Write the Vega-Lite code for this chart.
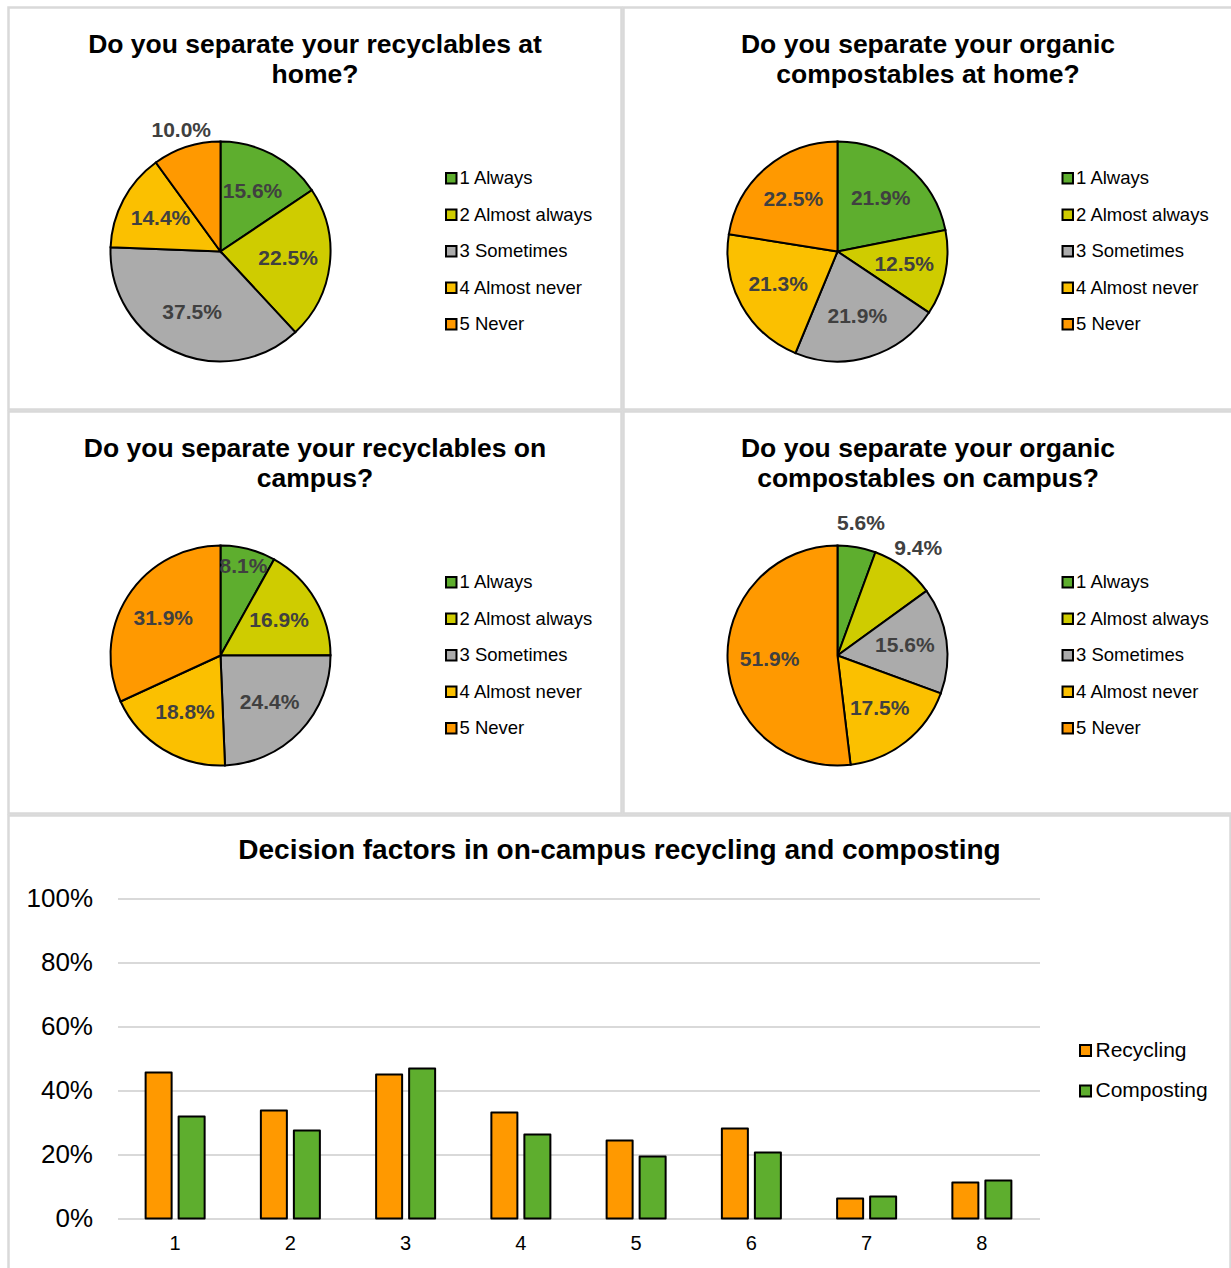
{
  "$schema": "https://vega.github.io/schema/vega-lite/v6.json",
  "padding": {"left": 6.5, "top": 5.5, "right": 0, "bottom": 0},
  "spacing": -8,
  "config": {
    "font": "Liberation Sans",
    "view": {"stroke": "#d9d9d9", "strokeWidth": 2.5},
    "title": {"font": "Liberation Sans", "fontWeight": "bold", "fontSize": 26.5, "color": "#000000", "anchor": "middle", "lineHeight": 30, "baseline": "top"},
    "legend": {"labelFont": "Liberation Sans", "labelColor": "#000000"}
  },
  "resolve": {"scale": {"color": "independent"}, "legend": {"color": "independent"}},
  "datasets": {
    "rh": [
      {"answer": "1 Always", "pct": 0.156},
      {"answer": "2 Almost always", "pct": 0.225},
      {"answer": "3 Sometimes", "pct": 0.375},
      {"answer": "4 Almost never", "pct": 0.144},
      {"answer": "5 Never", "pct": 0.100}
    ],
    "ch": [
      {"answer": "1 Always", "pct": 0.219},
      {"answer": "2 Almost always", "pct": 0.125},
      {"answer": "3 Sometimes", "pct": 0.219},
      {"answer": "4 Almost never", "pct": 0.213},
      {"answer": "5 Never", "pct": 0.225}
    ],
    "rc": [
      {"answer": "1 Always", "pct": 0.081},
      {"answer": "2 Almost always", "pct": 0.169},
      {"answer": "3 Sometimes", "pct": 0.244},
      {"answer": "4 Almost never", "pct": 0.188},
      {"answer": "5 Never", "pct": 0.319}
    ],
    "cc": [
      {"answer": "1 Always", "pct": 0.056},
      {"answer": "2 Almost always", "pct": 0.094},
      {"answer": "3 Sometimes", "pct": 0.156},
      {"answer": "4 Almost never", "pct": 0.175},
      {"answer": "5 Never", "pct": 0.519}
    ],
    "bars": [
      {"factor": "1", "series": "Recycling", "pct": 0.456},
      {"factor": "1", "series": "Composting", "pct": 0.319},
      {"factor": "2", "series": "Recycling", "pct": 0.3375},
      {"factor": "2", "series": "Composting", "pct": 0.275},
      {"factor": "3", "series": "Recycling", "pct": 0.45},
      {"factor": "3", "series": "Composting", "pct": 0.469},
      {"factor": "4", "series": "Recycling", "pct": 0.331},
      {"factor": "4", "series": "Composting", "pct": 0.2625},
      {"factor": "5", "series": "Recycling", "pct": 0.244},
      {"factor": "5", "series": "Composting", "pct": 0.194},
      {"factor": "6", "series": "Recycling", "pct": 0.281},
      {"factor": "6", "series": "Composting", "pct": 0.206},
      {"factor": "7", "series": "Recycling", "pct": 0.0625},
      {"factor": "7", "series": "Composting", "pct": 0.069},
      {"factor": "8", "series": "Recycling", "pct": 0.1125},
      {"factor": "8", "series": "Composting", "pct": 0.119}
    ]
  },
  "vconcat": [
    {
      "spacing": -5,
      "resolve": {"scale": {"color": "independent"}, "legend": {"color": "independent"}},
      "vconcat": [
        {
          "hconcat": [
            {
              "width": 613, "height": 402,
              "view": {"stroke": "#d9d9d9", "strokeWidth": 2.5},
              "title": {"text": ["Do you separate your recyclables at", "home?"], "offset": -80.5},
              "data": {"name": "rh"},
              "encoding": {
                "theta": {"field": "pct", "type": "quantitative", "stack": true},
                "order": {"field": "answer", "type": "ordinal", "sort": "ascending"}
              },
              "layer": [
                {
                  "mark": {"type": "arc", "x": 212, "y": 244, "outerRadius": 110, "stroke": "#000000", "strokeWidth": 2},
                  "encoding": {"color": {"field": "answer", "type": "nominal",
                    "scale": {"domain": ["1 Always", "2 Almost always", "3 Sometimes", "4 Almost never", "5 Never"], "range": ["#5EAE2E", "#CFCC00", "#ABABAB", "#FBC000", "#FF9900"]},
                    "legend": {"title": null, "orient": "none", "legendX": 433.5, "legendY": 161.5, "symbolType": "square", "symbolSize": 110, "symbolStrokeColor": "#000000", "symbolStrokeWidth": 2, "labelFontSize": 18.5, "rowPadding": 17.5, "labelOffset": -1, "padding": 0}}}
                },
                {
                  "mark": {"type": "text", "x": 212, "y": 244, "radius": 68, "fontWeight": "bold", "fontSize": 21, "fill": "#404040", "align": "center", "baseline": "middle"},
                  "encoding": {"text": {"field": "pct", "type": "quantitative", "format": ".1%", "condition": {"test": "datum.pct < 0.105", "value": ""}}}
                },
                {
                  "mark": {"type": "text", "x": 212, "y": 244, "radius": 127, "fontWeight": "bold", "fontSize": 21, "fill": "#404040", "align": "center", "baseline": "middle"},
                  "encoding": {"text": {"field": "pct", "type": "quantitative", "format": ".1%", "condition": {"test": "datum.pct >= 0.105", "value": ""}}}
                }
              ]
            },
            {
              "width": 609, "height": 402,
              "view": {"stroke": "#d9d9d9", "strokeWidth": 2.5},
              "title": {"text": ["Do you separate your organic", "compostables at home?"], "offset": -80.5},
              "data": {"name": "ch"},
              "encoding": {
                "theta": {"field": "pct", "type": "quantitative", "stack": true},
                "order": {"field": "answer", "type": "ordinal", "sort": "ascending"}
              },
              "layer": [
                {
                  "mark": {"type": "arc", "x": 214, "y": 244, "outerRadius": 110, "stroke": "#000000", "strokeWidth": 2},
                  "encoding": {"color": {"field": "answer", "type": "nominal",
                    "scale": {"domain": ["1 Always", "2 Almost always", "3 Sometimes", "4 Almost never", "5 Never"], "range": ["#5EAE2E", "#CFCC00", "#ABABAB", "#FBC000", "#FF9900"]},
                    "legend": {"title": null, "orient": "none", "legendX": 435, "legendY": 161.5, "symbolType": "square", "symbolSize": 110, "symbolStrokeColor": "#000000", "symbolStrokeWidth": 2, "labelFontSize": 18.5, "rowPadding": 17.5, "labelOffset": -1, "padding": 0}}}
                },
                {
                  "mark": {"type": "text", "x": 214, "y": 244, "radius": 68, "fontWeight": "bold", "fontSize": 21, "fill": "#404040", "align": "center", "baseline": "middle"},
                  "encoding": {"text": {"field": "pct", "type": "quantitative", "format": ".1%"}}
                }
              ]
            }
          ],
          "spacing": -5,
          "resolve": {"scale": {"color": "independent"}, "legend": {"color": "independent"}}
        },
        {
          "hconcat": [
            {
              "width": 613, "height": 402,
              "view": {"stroke": "#d9d9d9", "strokeWidth": 2.5},
              "title": {"text": ["Do you separate your recyclables on", "campus?"], "offset": -80.5},
              "data": {"name": "rc"},
              "encoding": {
                "theta": {"field": "pct", "type": "quantitative", "stack": true},
                "order": {"field": "answer", "type": "ordinal", "sort": "ascending"}
              },
              "layer": [
                {
                  "mark": {"type": "arc", "x": 212, "y": 244, "outerRadius": 110, "stroke": "#000000", "strokeWidth": 2},
                  "encoding": {"color": {"field": "answer", "type": "nominal",
                    "scale": {"domain": ["1 Always", "2 Almost always", "3 Sometimes", "4 Almost never", "5 Never"], "range": ["#5EAE2E", "#CFCC00", "#ABABAB", "#FBC000", "#FF9900"]},
                    "legend": {"title": null, "orient": "none", "legendX": 433.5, "legendY": 161.5, "symbolType": "square", "symbolSize": 110, "symbolStrokeColor": "#000000", "symbolStrokeWidth": 2, "labelFontSize": 18.5, "rowPadding": 17.5, "labelOffset": -1, "padding": 0}}}
                },
                {
                  "mark": {"type": "text", "x": 212, "y": 244, "radius": 68, "fontWeight": "bold", "fontSize": 21, "fill": "#404040", "align": "center", "baseline": "middle"},
                  "encoding": {"text": {"field": "pct", "type": "quantitative", "format": ".1%", "condition": {"test": "datum.pct < 0.1", "value": ""}}}
                },
                {
                  "mark": {"type": "text", "x": 212, "y": 244, "radius": 91, "fontWeight": "bold", "fontSize": 21, "fill": "#404040", "align": "center", "baseline": "middle"},
                  "encoding": {"text": {"field": "pct", "type": "quantitative", "format": ".1%", "condition": {"test": "datum.pct >= 0.1", "value": ""}}}
                }
              ]
            },
            {
              "width": 609, "height": 402,
              "view": {"stroke": "#d9d9d9", "strokeWidth": 2.5},
              "title": {"text": ["Do you separate your organic", "compostables on campus?"], "offset": -80.5},
              "data": {"name": "cc"},
              "encoding": {
                "theta": {"field": "pct", "type": "quantitative", "stack": true},
                "order": {"field": "answer", "type": "ordinal", "sort": "ascending"}
              },
              "layer": [
                {
                  "mark": {"type": "arc", "x": 214, "y": 244, "outerRadius": 110, "stroke": "#000000", "strokeWidth": 2},
                  "encoding": {"color": {"field": "answer", "type": "nominal",
                    "scale": {"domain": ["1 Always", "2 Almost always", "3 Sometimes", "4 Almost never", "5 Never"], "range": ["#5EAE2E", "#CFCC00", "#ABABAB", "#FBC000", "#FF9900"]},
                    "legend": {"title": null, "orient": "none", "legendX": 435, "legendY": 161.5, "symbolType": "square", "symbolSize": 110, "symbolStrokeColor": "#000000", "symbolStrokeWidth": 2, "labelFontSize": 18.5, "rowPadding": 17.5, "labelOffset": -1, "padding": 0}}}
                },
                {
                  "mark": {"type": "text", "x": 214, "y": 244, "radius": 68, "fontWeight": "bold", "fontSize": 21, "fill": "#404040", "align": "center", "baseline": "middle"},
                  "encoding": {"text": {"field": "pct", "type": "quantitative", "format": ".1%", "condition": {"test": "datum.pct < 0.105", "value": ""}}}
                },
                {
                  "mark": {"type": "text", "x": 214, "y": 244, "radius": 134, "fontWeight": "bold", "fontSize": 21, "fill": "#404040", "align": "center", "baseline": "middle"},
                  "encoding": {"text": {"field": "pct", "type": "quantitative", "format": ".1%", "condition": {"test": "datum.pct >= 0.105", "value": ""}}}
                }
              ]
            }
          ],
          "spacing": -5,
          "resolve": {"scale": {"color": "independent"}, "legend": {"color": "independent"}}
        }
      ]
    },
    {
      "width": 1222, "height": 456,
      "title": {"text": "Decision factors in on-campus recycling and composting", "fontSize": 28, "offset": -49.5},
      "data": {"name": "bars"},
      "mark": {"type": "bar", "stroke": "#000000", "strokeWidth": 2, "strokeJoin": "round"},
      "encoding": {
        "x": {"field": "factor", "type": "ordinal",
          "scale": {"range": [109, 1031], "paddingInner": 0.488, "paddingOuter": 0.244},
          "axis": {"title": null, "labelAngle": 0, "offset": -53, "domain": false, "ticks": false, "grid": false, "labelFontSize": 20, "labelColor": "#000000", "labelPadding": 15}},
        "xOffset": {"field": "series", "type": "nominal", "sort": ["Recycling", "Composting"], "scale": {"paddingInner": 0.212}},
        "y": {"field": "pct", "type": "quantitative",
          "scale": {"domain": [0, 1], "range": [403, 83]},
          "axis": {"title": null, "format": ".0%", "values": [0, 0.2, 0.4, 0.6, 0.8, 1], "offset": -109, "domain": false, "ticks": false, "labelPadding": 25, "labelFontSize": 26, "labelColor": "#000000", "gridColor": "#d9d9d9", "gridWidth": 2}},
        "color": {"field": "series", "type": "nominal",
          "scale": {"domain": ["Recycling", "Composting"], "range": ["#FF9900", "#5EAE2E"]},
          "legend": {"title": null, "orient": "none", "legendX": 1066.5, "legendY": 224.5, "symbolType": "square", "symbolSize": 121, "symbolStrokeColor": "#000000", "symbolStrokeWidth": 2, "labelFontSize": 21, "rowPadding": 18.5, "labelOffset": -0.5, "padding": 0}}
      }
    }
  ]
}
